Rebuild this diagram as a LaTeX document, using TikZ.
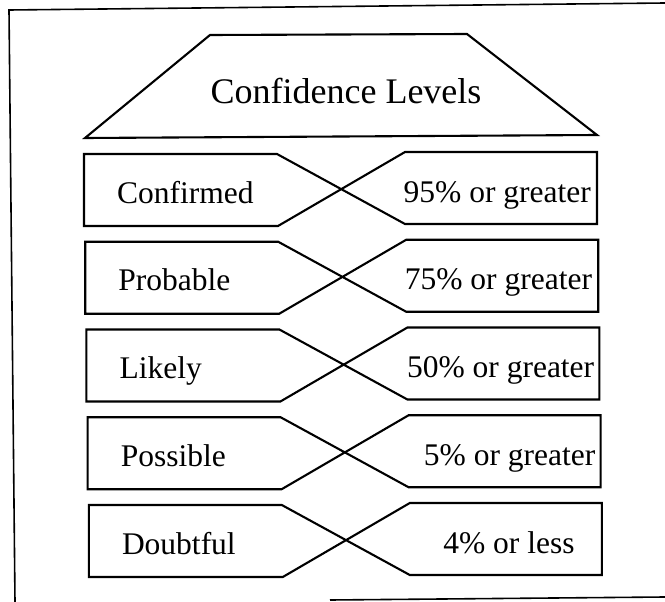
\documentclass[tikz,border=0pt]{standalone}
\usepackage{fontspec}
\setmainfont{Liberation Serif}
\begin{document}
\begin{tikzpicture}[x=1pt,y=-1pt,
  outline/.style={line width=2.1pt, line join=miter, black},
  frameline/.style={line width=1.6pt, black},
  rowtext/.style={font=\fontsize{31.5}{31.5}\selectfont, inner sep=0pt},
  titletext/.style={font=\fontsize{36}{36}\selectfont, inner sep=0pt}]
\useasboundingbox (0,0) rectangle (665,602);
% frame
\coordinate (fa) at (9,10);
\coordinate (fb) at (665,3);
\coordinate (fc) at (15,602);
\coordinate (fd) at (330,600);
\coordinate (fe) at (665,597);
\draw[frameline] (fb) -- (fa) -- (fc);
\draw[frameline] (fd) -- (fe);
% title trapezoid
\draw[outline] (210,35) -- (467,34) -- (597,135) -- (85,138) -- cycle;
\node[titletext, anchor=base] (title) at (346,104) {Confidence Levels};
% rows
\foreach \i/\lt/\rt/\rx in {0/Confirmed/95\% or greater/591,
                             1/Probable/75\% or greater/591,
                             2/Likely/50\% or greater/592,
                             3/Possible/5\% or greater/592,
                             4/Doubtful/4\% or less/570}{
  \pgfmathsetmacro{\T}{154+87.75*\i}
  \pgfmathsetmacro{\dx}{1.2*\i}
  \draw[outline] (84+\dx,\T) -- (277+\dx,\T) -- (405+\dx,\T+70) -- (597+\dx,\T+70)
     -- (597+\dx,\T-2) -- (405+\dx,\T-2) -- (278+\dx,\T+72) -- (84+\dx,\T+72) -- cycle;
  \node[rowtext, anchor=base west] (L\i) at (117+\dx,\T+49) {\lt};
  \node[rowtext, anchor=base east] (R\i) at (\rx+\dx,\T+48) {\rt};
}
\end{tikzpicture}
\end{document}
